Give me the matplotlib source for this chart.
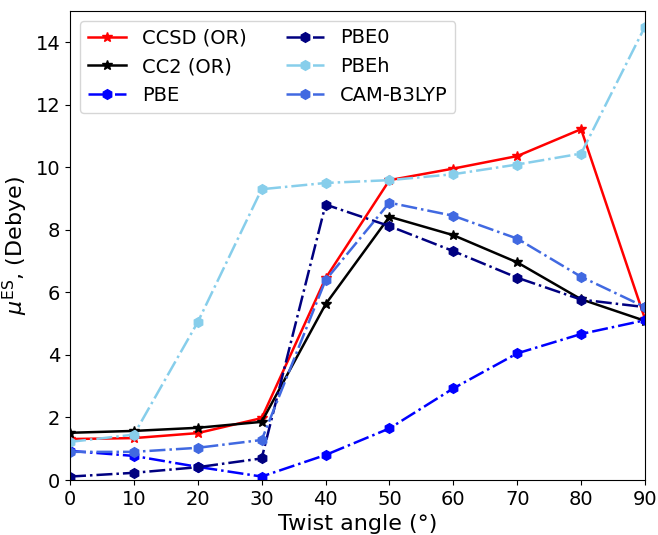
import matplotlib
matplotlib.use('Agg')
import matplotlib.pyplot as plt

# Кути скручування (градуси)
angles = [0, 10, 20, 30, 40, 50, 60, 70, 80, 90]

# Дипольні моменти збудженого стану (Debye)
ccsd = [1.31, 1.34, 1.50, 1.98, 6.45, 9.59, 9.96, 10.36, 11.22, 5.15]
cc2 = [1.51, 1.57, 1.67, 1.86, 5.62, 8.42, 7.83, 6.96, 5.78, 5.09]
pbe = [0.93, 0.77, 0.42, 0.11, 0.80, 1.65, 2.93, 4.05, 4.67, 5.11]
pbe0 = [0.11, 0.23, 0.41, 0.69, 8.81, 8.12, 7.32, 6.47, 5.77, 5.53]
pbeh = [1.22, 1.45, 5.05, 9.30, 9.50, 9.59, 9.78, 10.09, 10.44, 14.50]
cam = [0.90, 0.90, 1.03, 1.28, 6.39, 8.87, 8.45, 7.72, 6.50, 5.53]

fig = plt.figure(figsize=(6.58, 5.35), dpi=100)
ax = fig.add_axes([70 / 658, 55 / 535, 575 / 658, 469 / 535])

ax.plot(angles, ccsd, '-', color='red', marker='*', markersize=7, linewidth=1.8, label='CCSD (OR)')
ax.plot(angles, cc2, '-', color='black', marker='*', markersize=7, linewidth=1.8, label='CC2 (OR)')
ax.plot(angles, pbe, '-.', color='blue', marker='h', markersize=7, linewidth=1.8, label='PBE')
ax.plot(angles, pbe0, '-.', color='navy', marker='h', markersize=7, linewidth=1.8, label='PBE0')
ax.plot(angles, pbeh, '-.', color='skyblue', marker='h', markersize=7, linewidth=1.8, label='PBEh')
ax.plot(angles, cam, '-.', color='royalblue', marker='h', markersize=7, linewidth=1.8, label='CAM-B3LYP')

ax.set_xlim(0, 90)
ax.set_ylim(0, 15)
ax.set_xticks(range(0, 91, 10))
ax.set_yticks(range(0, 15, 2))
ax.tick_params(labelsize=14)
ax.set_xlabel('Twist angle (°)', fontsize=16)
ax.set_ylabel(r'$\mu^{\mathrm{ES}}$, (Debye)', fontsize=16)
ax.legend(loc='upper left', ncol=2, fontsize=14)

fig.savefig('out.png', dpi=100)
